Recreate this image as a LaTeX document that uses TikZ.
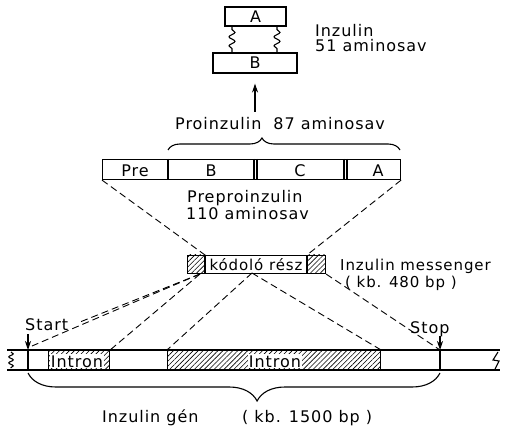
\documentclass[tikz,border=0pt]{standalone}
\usepackage{fontspec}
\setmainfont{DejaVu Sans}
\newfontfamily\lblfam[LetterSpace=6]{DejaVu Sans}
\newcommand\lblfont{\lblfam\fontsize{16}{16}\selectfont}
\newcommand\smlfont{\lblfam\fontsize{15}{15}\selectfont}
\usetikzlibrary{patterns.meta,decorations.pathmorphing,decorations.pathreplacing,arrows.meta,calc}
\tikzset{
  ln/.style={line width=1.1pt},
  dsh/.style={line width=0.9pt, dash pattern=on 7pt off 4pt},
  hatch/.style={pattern={Lines[angle=45,distance=3.5pt,line width=0.6pt]}},
  lbl/.style={inner sep=0pt, font=\lblfont},
  arr/.style={-{Stealth[length=9pt,width=6pt]}, line width=1.1pt},
  spring/.style={line width=1.1pt, decorate, decoration={snake, amplitude=3pt, segment length=9pt, pre length=3pt, post length=3pt}},
  boxn/.style={draw, line width=1.1pt, inner sep=0pt, font=\lblfont},
}
\begin{document}
\begin{tikzpicture}[x=1pt,y=-1pt]
\useasboundingbox (0,0) rectangle (505,435);
\fill[white] (0,0) rectangle (505,435);

% ---- insulin A/B chains
\node[boxn, minimum width=61pt, minimum height=19pt] (A) at (255.5,16.5) {A};
\node[boxn, minimum width=84pt, minimum height=20pt] (B) at (255,63) {B};
\draw[spring] (A.south -| 232,0) -- (B.north -| 232,0);
\draw[spring] (A.south -| 277,0) -- (B.north -| 277,0);
\node[lbl, anchor=base west] (ins1) at (315,37) {Inzulin};
\node[lbl, anchor=base west] (ins2) at (315,52) {51 aminosav};
\coordinate (arrS) at (255,112);
\draw[arr, shorten >=10pt] (arrS) -- (B.south);

% ---- proinsulin brace
\node[lbl, anchor=base west] (pro) at (175,130) {Proinzulin\ \ 87 aminosav};
\draw[ln, decorate, decoration={brace, amplitude=12pt, aspect=0.405}] (168,150) -- (400,150);

% ---- preproinsulin bar
\node[boxn, minimum width=298pt, minimum height=20pt, anchor=north west] (bar) at (102,159) {};
\draw[ln] (168,159) -- (168,179);
\draw[ln] (254,159) -- (254,179) (257,159) -- (257,179);
\draw[ln] (344,159) -- (344,179) (347,159) -- (347,179);
\node[lbl, anchor=base] (tPre) at (135,177) {Pre};
\node[lbl, anchor=base] (tB) at (211,177) {B};
\node[lbl, anchor=base] (tC) at (300,177) {C};
\node[lbl, anchor=base] (tA) at (378,177) {A};
\node[lbl, anchor=base west] (pp1) at (187,203) {Preproinzulin};
\node[lbl, anchor=base west] (pp2) at (186,220) {110 aminosav};

% ---- mRNA
\fill[hatch] (187,255) rectangle (205,273);
\fill[hatch] (307,255) rectangle (325,273);
\node[boxn, minimum width=138pt, minimum height=18pt, anchor=north west] (mrna) at (187,255) {};
\draw[ln] (205,255) -- (205,273) (307,255) -- (307,273);
\coordinate (mTL) at (205,255);
\coordinate (mTR) at (307,255);
\node[inner sep=0pt, font=\smlfont, anchor=base] (kod) at (256,270) {kódoló rész};
\node[inner sep=0pt, font=\smlfont, anchor=base west] (msg1) at (340,270) {Inzulin messenger};
\node[inner sep=0pt, font=\smlfont, anchor=base west] (msg2) at (345,287) {( kb. 480 bp )};
\draw[dsh] (bar.south west) -- (mTL);
\draw[dsh] (bar.south east) -- (mTR);

% ---- gene
\node[draw, hatch, line width=1.1pt, minimum width=61pt, minimum height=20pt, inner sep=0pt, anchor=north west] (in1) at (48,350) {};
\node[draw, hatch, line width=1.1pt, minimum width=213pt, minimum height=20pt, inner sep=0pt, anchor=north west] (in2) at (167,350) {};
\draw[ln] (7,350) -- (500,350) (7,370) -- (500,370);
\draw[ln] (28,350) -- (28,370) (440,350) -- (440,370);
\draw[ln, decorate, decoration={snake, amplitude=2.2pt, segment length=6pt}] (11,352) -- (11,368);
\draw[ln] (498,352) -- (493,360) -- (499,361) -- (495,369);
\node[lbl, fill=white, inner sep=1pt, anchor=base] (int1) at (77,367) {Intron};
\node[lbl, fill=white, inner sep=1pt, anchor=base] (int2) at (275,367) {Intron};
\coordinate (st) at (28,350);
\coordinate (sp) at (440,350);
\node[lbl, anchor=base west] (start) at (25,330) {Start};
\node[lbl, anchor=base west] (stop) at (410,333) {Stop};
\draw[arr] (28,334) -- (st);
\draw[arr] (440,336) -- (sp);

\coordinate (mA) at (200,274);
\coordinate (mB) at (252,273);
\coordinate (stL) at (80,322);
\coordinate (stP) at (32,346);
\draw[dsh] (mA) -- (stL);
\draw[dsh] (mA) -- (stP);
\draw[dsh] (mA) -- (in1.north east);
\draw[dsh] (mB) -- (in2.north west);
\draw[dsh] (mB) -- (in2.north east);
\draw[dsh] (mrna.south east) -- (sp);

% ---- gene brace
\draw[ln, decorate, decoration={brace, amplitude=28pt, aspect=0.444}] (440,373) -- (28,373);
\node[lbl, anchor=base west] (gen) at (102,422) {Inzulin gén};
\node[lbl, anchor=base west] (kb) at (242,422) {( kb. 1500 bp )};
\end{tikzpicture}
\end{document}
